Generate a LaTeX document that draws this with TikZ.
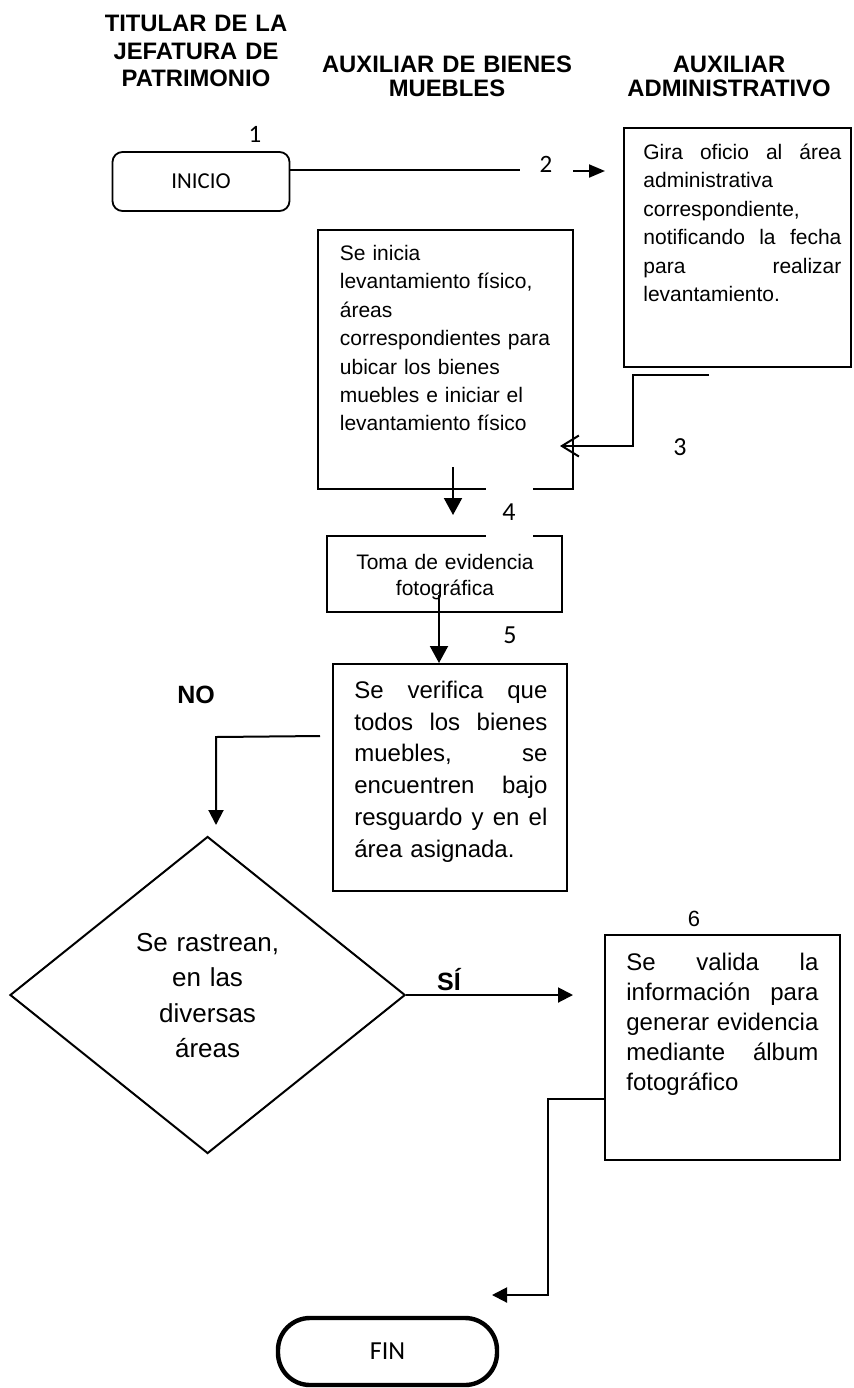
\documentclass[tikz,border=0pt]{standalone}
\usepackage{fontspec}
\setmainfont{Liberation Sans}
\newfontfamily\calfont{Carlito}
\usetikzlibrary{arrows.meta,shapes.geometric}
% a justified line of a given width: words are spread with \hfill
\newcommand\jl[2]{\leavevmode\hbox to #1{#2}}

\begin{document}
\begin{tikzpicture}[x=0.5pt,y=-0.5pt,
  box/.style={draw, line width=1pt, inner sep=0pt, rectangle},
  conn/.style={line width=1pt},
  arr/.style={conn, -{Triangle[length=7.5pt,width=7.5pt]}},
  bigarr/.style={conn, -{Triangle[length=8.5pt,width=9pt]}},
  openarr/.style={conn, -{Straight Barb[length=8.5pt,width=10.5pt]}},
  body/.style={inner sep=0pt, align=left, font=\fontsize{10.5}{14.2}\selectfont},
  bodybig/.style={inner sep=0pt, align=left, font=\fontsize{12}{15.85}\selectfont},
  head/.style={inner sep=0pt, align=center, text width=130pt, font=\bfseries\fontsize{11.9}{13.2}\selectfont},
  numlbl/.style={inner sep=0pt, font=\calfont\fontsize{12.5}{14}\selectfont},
  numbig/.style={inner sep=0pt, font=\calfont\fontsize{13}{15}\selectfont},
  answer/.style={inner sep=0pt, font=\bfseries\fontsize{12.5}{14}\selectfont}
]
\useasboundingbox (0,0) rectangle (853,1388);

% column headings
\node[head, anchor=base] (h1) at (196,31.5) {TITULAR DE LA\\[0.6pt] JEFATURA DE\\[0.6pt] PATRIMONIO};
\node[head, anchor=base, font=\bfseries\fontsize{11.9}{12}\selectfont] (h2) at (447,72.5) {AUXILIAR DE BIENES\\ MUEBLES};
\node[head, anchor=base, font=\bfseries\fontsize{11.9}{12}\selectfont] (h3) at (729,72.5) {AUXILIAR\\ ADMINISTRATIVO};

% shapes
\node[draw, line width=0.9pt, rounded corners=5pt, inner sep=0pt,
      minimum width=88.5pt, minimum height=29.5pt,
      font=\calfont\fontsize{11.4}{13}\selectfont] (inicio) at (201,181.5) {INICIO};
\node[box, minimum width=113.5pt, minimum height=119.5pt] (gira) at (737.5,247.5) {};
\node[box, minimum width=127.5pt, minimum height=129.5pt] (levant) at (445.5,359.5) {};
\node[box, minimum width=117.5pt, minimum height=38pt] (toma) at (444.5,574) {};
\node[box, minimum width=117pt, minimum height=113.5pt] (verif) at (450,777.5) {};
\node[draw, diamond, line width=1pt, inner sep=0pt, aspect=1.25,
      minimum width=197.6pt, minimum height=158.5pt] (rastreo) at (207.6,995) {};
\node[box, minimum width=117.5pt, minimum height=112.5pt] (valida) at (722.5,1047.5) {};
\node[draw, line width=2.2pt, rounded corners=16pt, inner sep=0pt,
      minimum width=109.5pt, minimum height=33.5pt,
      font=\calfont\fontsize{13}{15}\selectfont] (fin) at (387.5,1351.5) {FIN};

% texts of the steps
\node[body, text width=99pt, anchor=base west] (giratxt) at (643,159.5)
  {\jl{99pt}{Gira\hfill oficio\hfill al\hfill área}\\ administrativa\\ correspondiente,\\
   \jl{99pt}{notificando\hfill la\hfill fecha}\\ \jl{99pt}{para\hfill realizar}\\ levantamiento.};
\node[body, text width=112.5pt, anchor=base west] (levanttxt) at (339.5,260.5)
  {Se inicia\\ levantamiento físico,\\ áreas\\ correspondientes para\\
   ubicar los bienes\\ muebles e iniciar el\\ levantamiento físico};
\node[body, align=center, text width=117pt, font=\fontsize{10.5}{13}\selectfont,
      anchor=base] (tomatxt) at (445,569.5) {Toma de evidencia\\ fotográfica};
\node[bodybig, text width=96.5pt, anchor=base west] (veriftxt) at (354,698.5)
  {\jl{96.5pt}{Se\hfill verifica\hfill que}\\ \jl{96.5pt}{todos\hfill los\hfill bienes}\\
   \jl{96.5pt}{muebles,\hfill se}\\ \jl{96.5pt}{encuentren\hfill bajo}\\
   \jl{96.5pt}{resguardo\hfill y\hfill en\hfill el}\\ área asignada.};
\node[inner sep=0pt, align=center, text width=110pt, font=\fontsize{13}{17.75}\selectfont,
      anchor=base] (rastreotxt) at (207.6,951) {Se rastrean,\\ en las\\ diversas\\ áreas};
\node[bodybig, text width=96pt, font=\fontsize{12}{15}\selectfont, anchor=base west] (validatxt) at (626,970.5)
  {\jl{96pt}{Se\hfill valida\hfill la}\\ \jl{96pt}{información\hfill para}\\
   \jl{96pt}{generar\hfill evidencia}\\ \jl{96pt}{mediante\hfill álbum}\\ fotográfico};

% connector end points
\coordinate (c2a) at (520,170);
\coordinate (c2b) at (573,171);
\coordinate (c2c) at (605,171);
\coordinate (c3a) at (709,375);
\coordinate (c3b) at (633,375);
\coordinate (c3c) at (633,446);
\coordinate (c3d) at (560,446);
\coordinate (c4a) at (453,467);
\coordinate (c4b) at (453,515);
\coordinate (c5a) at (439,595);
\coordinate (cnoa) at (320,736);
\coordinate (cnob) at (216,737);
\coordinate (cnoc) at (216,825);
\coordinate (csi) at (573,997);
\coordinate (c6a) at (548,1099);
\coordinate (c6b) at (548,1295);
\coordinate (c6c) at (492,1295);

% connectors
\draw[conn] (inicio.east |- c2a) -- (c2a);
\draw[conn, -{Triangle[length=8pt,width=6.5pt]}] (c2b) -- (c2c);
\draw[openarr] (c3a) -- (c3b) -- (c3c) -- (c3d);
\draw[bigarr] (c4a) -- (c4b);
\draw[bigarr] (c5a) -- (c5a |- verif.north);
\draw[arr] (cnoa) -- (cnob) -- (cnoc);
\draw[arr] (rastreo.east) -- (rastreo.east -| csi);
\draw[arr] (valida.west |- c6a) -- (c6a) -- (c6b) -- (c6c);

% step numbers and answers
\node[numlbl] (n1) at (255,134) {1};
\node[numlbl] (n2) at (546,164) {2};
\node[numbig, fill=white, minimum width=29pt, minimum height=30pt] (n3) at (680,447) {3};
\node[numbig, fill=white, minimum width=23.5pt, minimum height=26pt] (n4) at (509,512) {4};
\node[numbig] (n5) at (510,635) {5};
\node[inner sep=0pt, font=\fontsize{11}{12}\selectfont] (n6) at (694,919) {6};
\node[answer] (no) at (196,695) {NO};
\node[answer] (si) at (449,980) {SÍ};
\end{tikzpicture}
\end{document}
